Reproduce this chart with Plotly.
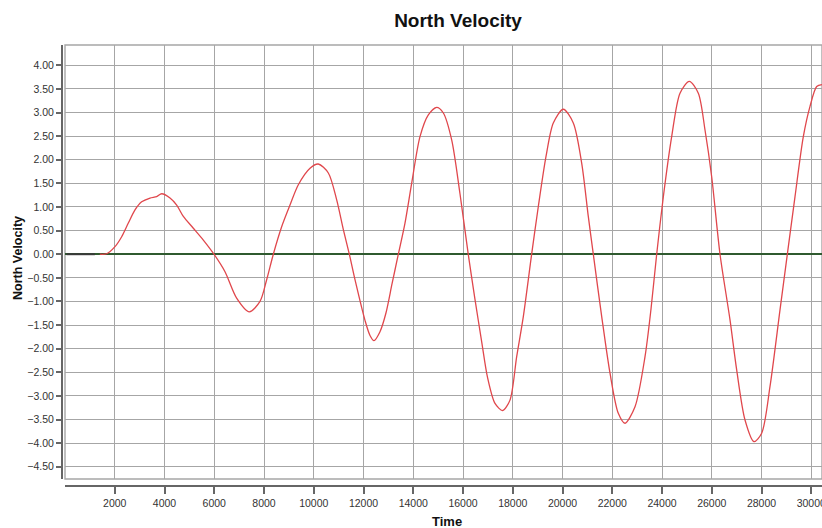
import plotly.graph_objects as go

# ---- data ----
time = [1400, 1676, 2010, 2278, 2546, 2814, 3082, 3417, 3685, 3887,
        4221, 4490, 4757, 5159, 5561, 5990, 6432, 6900, 7410, 7839,
        8107, 8375, 8710, 9045, 9380, 9850, 10183, 10586, 10922, 11190,
        11430, 11658, 12060, 12261, 12420, 12663, 12900, 13150, 13400, 13668,
        13936, 14271, 14606, 14942, 15210, 15545, 15879, 16210, 16480, 16750,
        16990, 17286, 17595, 17889, 18158, 18425, 18760, 19028, 19337, 19630,
        20032, 20434, 20771, 21037, 21238, 21576, 21910, 22243, 22513, 22915,
        23317, 23560, 23786, 24054, 24389, 24724, 25098, 25460, 25729, 25997,
        26332, 26734, 27002, 27337, 27699, 28007, 28342, 28744, 29039, 29347,
        29681, 29950, 30219, 30432]
north_velocity = [0.00, 0.01, 0.16, 0.37, 0.66, 0.94, 1.11, 1.19, 1.22, 1.28,
                  1.19, 1.04, 0.80, 0.55, 0.30, 0.00, -0.37, -0.93, -1.22, -1.00,
                  -0.54, 0.00, 0.58, 1.04, 1.47, 1.82, 1.91, 1.72, 1.15, 0.52,
                  0.00, -0.54, -1.40, -1.72, -1.83, -1.64, -1.25, -0.62, 0.00, 0.66,
                  1.50, 2.49, 2.95, 3.11, 2.99, 2.42, 1.28, 0.00, -0.95, -1.85,
                  -2.62, -3.16, -3.31, -3.09, -2.17, -1.32, 0.00, 1.01, 2.07, 2.78,
                  3.07, 2.78, 1.93, 0.80, 0.00, -1.32, -2.52, -3.37, -3.58, -3.23,
                  -2.17, -1.15, 0.00, 1.22, 2.49, 3.41, 3.66, 3.41, 2.63, 1.64,
                  0.00, -1.39, -2.45, -3.51, -3.97, -3.79, -2.80, -1.18, 0.00, 1.22,
                  2.49, 3.13, 3.55, 3.59]
pre_time = [60, 1200]
pre_velocity = [0.0, 0.0]

x_ticks = [2000, 4000, 6000, 8000, 10000, 12000, 14000, 16000,
           18000, 20000, 22000, 24000, 26000, 28000, 30000]
y_ticks = [4.0, 3.5, 3.0, 2.5, 2.0, 1.5, 1.0, 0.5, 0.0, -0.5,
           -1.0, -1.5, -2.0, -2.5, -3.0, -3.5, -4.0, -4.5]

W, H = 822, 528
FONT = "Liberation Sans, Arial, sans-serif"

# plot area in pixels
px_left, px_right, px_top, px_bottom = 65, 822, 45, 479
xdom = [px_left / W, px_right / W]
ydom = [(H - px_bottom) / H, (H - px_top) / H]

fig = go.Figure()
fig.add_trace(go.Scatter(x=pre_time, y=pre_velocity, mode="lines",
                         line=dict(color="#3a3a3a", width=2),
                         showlegend=False, hoverinfo="skip"))
fig.add_trace(go.Scatter(x=time, y=north_velocity, mode="lines",
                         line=dict(color="#e0474c", width=1.3, shape="spline", smoothing=0.8),
                         showlegend=False, name="North Velocity"))

grid_col = "#a6a6a6"
axis_col = "#666666"

fig.update_layout(
    width=W, height=H,
    margin=dict(l=0, r=0, t=0, b=0),
    paper_bgcolor="white", plot_bgcolor="white",
    font=dict(family=FONT, color="#222222"),
    title=dict(text="<b>North Velocity</b>", x=458 / W, xanchor="center",
               y=(H - 20) / H, yanchor="middle",
               font=dict(family=FONT, size=19, color="#111111")),
    xaxis=dict(domain=xdom, range=[0, 30432], anchor="free",
               position=(H - 486) / H,
               tickvals=x_ticks, tickformat="d",
               ticklabeloverflow="allow",
               showgrid=True, gridcolor=grid_col, gridwidth=1.4,
               zeroline=False,
               showline=True, linecolor=axis_col, linewidth=2,
               ticks="outside", ticklen=7, tickwidth=1.5, tickcolor=axis_col,
               tickfont=dict(family=FONT, size=10.5, color="#333333"),
               automargin=False),
    yaxis=dict(domain=ydom, range=[-4.76, 4.43], anchor="free",
               position=62 / W,
               tickvals=y_ticks, tickformat=".2f",
               ticklabeloverflow="allow",
               showgrid=True, gridcolor=grid_col, gridwidth=1.4,
               zeroline=True, zerolinecolor="#2f5a2f", zerolinewidth=1.6,
               showline=True, linecolor=axis_col, linewidth=2,
               ticks="outside", ticklen=5, tickwidth=1.5, tickcolor=axis_col,
               tickfont=dict(family=FONT, size=10.5, color="#333333"),
               automargin=False),
    shapes=[dict(type="rect", xref="paper", yref="paper",
                 x0=xdom[0], x1=xdom[1], y0=ydom[0], y1=ydom[1],
                 line=dict(color=grid_col, width=1.4), layer="below")],
    annotations=[
        dict(text="<b>Time</b>", xref="paper", yref="paper",
             x=447 / W, y=(H - 521) / H, xanchor="center", yanchor="middle",
             showarrow=False, font=dict(family=FONT, size=13, color="#111111")),
        dict(text="<b>North Velocity</b>", xref="paper", yref="paper",
             x=18 / W, y=(H - 258) / H, xanchor="center", yanchor="middle",
             textangle=-90, showarrow=False,
             font=dict(family=FONT, size=12.5, color="#111111")),
    ],
)

fig.write_html("out.html")
